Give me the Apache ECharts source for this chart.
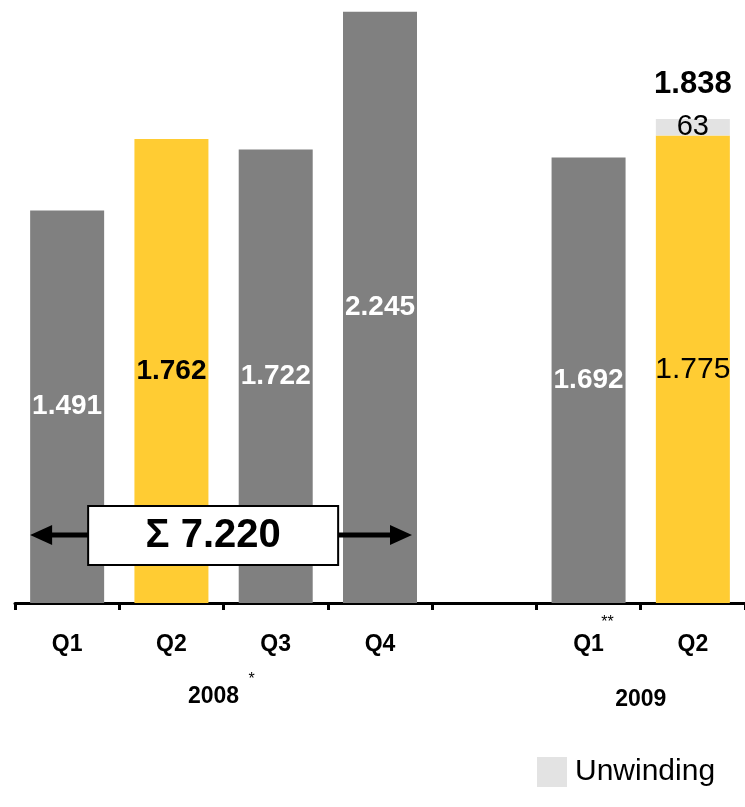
<!DOCTYPE html>
<html>
<head>
<meta charset="utf-8">
<script src="https://cdn.jsdelivr.net/npm/echarts@6/dist/echarts.min.js"></script>
<style>
  html, body { margin: 0; padding: 0; background: #fff; }
  #chart { width: 745px; height: 807px; }
</style>
</head>
<body>
<div id="chart"></div>
<script>
// Quarterly results, 2008 and first half of 2009
const quarters = ['Q1', 'Q2', 'Q3', 'Q4', '', 'Q1', 'Q2'];
const baseValues = [1491, 1762, 1722, 2245, null, 1692, 1775];
const unwinding = [null, null, null, null, null, null, 63];
const years = ['2008', '2009'];

const GREY = '#808080';
const YELLOW = '#FFCC33';
const LIGHT = '#E3E3E3';
const FONT = 'Liberation Sans, Arial, sans-serif';

// German number format: 1.491
const fmt = v => v.toLocaleString('de-DE');

// style per bar: highlighted quarters in yellow
const highlight = [false, true, false, false, false, false, true];
const labelColor = ['#fff', '#000', '#fff', '#fff', '#fff', '#fff', '#000'];
const labelBold = [true, true, true, true, true, true, false];

const baseData = baseValues.map((v, i) => v === null ? null : {
  value: v,
  itemStyle: { color: highlight[i] ? YELLOW : GREY },
  label: {
    color: labelColor[i],
    fontWeight: labelBold[i] ? 'bold' : 'normal',
    fontSize: labelBold[i] ? 28 : 30
  }
});

const totals = baseValues.map((v, i) => (v || 0) + (unwinding[i] || 0));
const totalCarrier = unwinding.map(u => u === null ? null : 0);

const sum2008 = baseValues.slice(0, 4).reduce((a, b) => a + b, 0);

const chart = echarts.init(document.getElementById('chart'));

chart.setOption({
  animation: false,
  backgroundColor: '#fff',
  grid: { left: 15, right: -3, top: 0, bottom: 204, containLabel: false },
  legend: {
    data: ['Unwinding'],
    left: 532, top: 752,
    itemWidth: 30, itemHeight: 30, itemGap: 10,
    icon: 'rect',
    textStyle: { fontFamily: FONT, fontSize: 30, color: '#000', padding: [0, 0, 0, 3] }
  },
  xAxis: {
    type: 'category',
    data: quarters,
    axisLine: { lineStyle: { color: '#000', width: 3 } },
    axisTick: { show: true, interval: 0, length: 7, lineStyle: { color: '#000', width: 3 } },
    axisLabel: {
      margin: 30, color: '#000', fontFamily: FONT, fontWeight: 'bold', fontSize: 23
    }
  },
  yAxis: {
    type: 'value', min: 0, max: 2290,
    show: false, splitLine: { show: false }
  },
  series: [
    {
      name: 'Base', type: 'bar', stack: 'q', barWidth: 74,
      data: baseData,
      label: {
        show: true, position: 'inside', fontFamily: FONT,
        formatter: p => fmt(p.value)
      }
    },
    {
      name: 'Unwinding', type: 'bar', stack: 'q', barWidth: 74,
      itemStyle: { color: LIGHT },
      data: unwinding,
      label: {
        show: true, position: 'inside', fontFamily: FONT, fontSize: 29, color: '#000',
        formatter: p => fmt(p.value)
      }
    },
    {
      name: 'Total', type: 'bar', stack: 'q', barWidth: 74,
      itemStyle: { color: 'transparent' },
      data: totalCarrier,
      label: {
        show: true, position: 'top', distance: 19, fontFamily: FONT, fontSize: 31,
        fontWeight: 'bold', color: '#000',
        formatter: p => fmt(totals[p.dataIndex])
      }
    }
  ]
});

// annotations placed from the axis scales
function px(i, v) { return chart.convertToPixel({ xAxisIndex: 0, yAxisIndex: 0 }, [i, v]); }
const half = 37;
const base = px(0, 0)[1];
const yA = base - 68;
const xL = px(0, 0)[0] - half;
const xR = px(3, 0)[0] + half - 5;
const boxL = xL + 58, boxR = boxL + 250;
const headLen = 22, headH = 10;

const yearY = base + 94;
const mid12 = (px(1, 0)[0] + px(2, 0)[0]) / 2;
const graphics = [
  { type: 'line', shape: { x1: xL + 10, y1: yA, x2: xR - 10, y2: yA }, style: { stroke: '#000', lineWidth: 5 }, z: 10 },
  { type: 'polygon', shape: { points: [[xL, yA], [xL + headLen, yA - headH], [xL + headLen, yA + headH]] }, style: { fill: '#000' }, z: 10 },
  { type: 'polygon', shape: { points: [[xR, yA], [xR - headLen, yA - headH], [xR - headLen, yA + headH]] }, style: { fill: '#000' }, z: 10 },
  { type: 'rect', shape: { x: boxL, y: yA - 29, width: boxR - boxL, height: 59 }, style: { fill: '#fff', stroke: '#000', lineWidth: 2 }, z: 11 },
  { type: 'text', x: (boxL + boxR) / 2, y: yA + 1, style: { text: 'Σ ' + fmt(sum2008), fontFamily: FONT, fontWeight: 'bold', fontSize: 40, fill: '#000', align: 'center', verticalAlign: 'middle' }, z: 12 },
  // year captions
  { type: 'text', x: mid12 - 10, y: yearY, style: { text: years[0], fontFamily: FONT, fontWeight: 'bold', fontSize: 23, fill: '#000', align: 'center', verticalAlign: 'middle' } },
  { type: 'text', x: mid12 + 28, y: yearY - 17, style: { text: '*', fontFamily: FONT, fontSize: 16, fill: '#000', align: 'center', verticalAlign: 'middle' } },
  { type: 'text', x: (px(5, 0)[0] + px(6, 0)[0]) / 2, y: yearY + 3, style: { text: years[1], fontFamily: FONT, fontWeight: 'bold', fontSize: 23, fill: '#000', align: 'center', verticalAlign: 'middle' } },
  { type: 'text', x: px(5, 0)[0] + 19, y: base + 20, style: { text: '**', fontFamily: FONT, fontSize: 16, fill: '#000', align: 'center', verticalAlign: 'middle' } }
];
chart.setOption({ graphic: graphics });
</script>
</body>
</html>
